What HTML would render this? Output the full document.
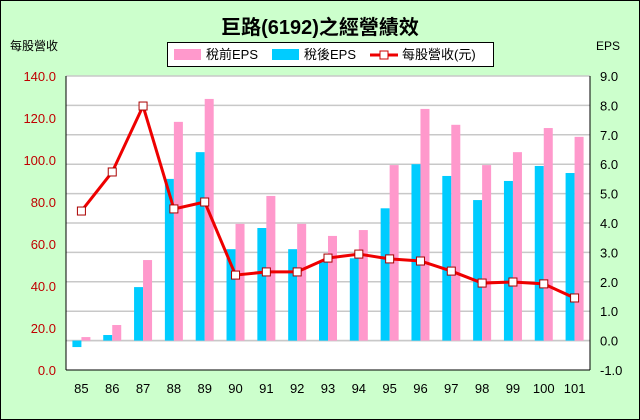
<!DOCTYPE html>
<html><head><meta charset="utf-8"><style>
body{margin:0;background:#ccffcc;}
svg{display:block;font-family:"Liberation Sans","Noto Sans CJK TC",sans-serif;}
</style></head><body>
<svg id="c" width="640" height="420">
<rect x="0.5" y="0.5" width="639" height="419" fill="#ccffcc" stroke="#000"/>
<text x="320" y="34" font-size="20" font-weight="bold" text-anchor="middle">巨路(6192)之經營績效</text>
<text x="34" y="50" font-size="12" text-anchor="middle">每股營收</text>
<text x="608" y="50" font-size="12" text-anchor="middle">EPS</text>
<g>
<rect x="167.5" y="42.5" width="326" height="24" fill="#fff" stroke="#000"/>
<rect x="174" y="49" width="27" height="11" fill="#ff99cc"/>
<text x="206" y="59" font-size="13">稅前EPS</text>
<rect x="272" y="49" width="27" height="11" fill="#00ccff"/>
<text x="304" y="59" font-size="13">稅後EPS</text>
<line x1="370" y1="55" x2="398" y2="55" stroke="#e00" stroke-width="3"/>
<rect x="380" y="51" width="8" height="8" fill="#fff" stroke="#c00"/>
<text x="402" y="59" font-size="13">每股營收(元)</text>
</g>
<rect x="66" y="76" width="524" height="294" fill="#fff"/>
<g id="g"></g>
</svg>
<script>
const categories=["85","86","87","88","89","90","91","92","93","94","95","96","97","98","99","100","101"];
const pretaxEps=[0.12,0.53,2.74,7.44,8.22,3.97,4.92,3.97,3.56,3.76,5.97,7.88,7.34,5.97,6.41,7.23,6.93];
const aftertaxEps=[-0.22,0.19,1.82,5.5,6.41,3.11,3.83,3.11,2.67,2.8,4.5,6.0,5.6,4.78,5.43,5.94,5.7];
const revenue=[75.7,94.3,125.7,76.7,80,45.2,46.7,46.7,53.3,55.2,52.9,51.9,47.1,41.4,41.9,41,34.3];
const leftTicks=["0.0","20.0","40.0","60.0","80.0","100.0","120.0","140.0"];
const rightTicks=["-1.0","0.0","1.0","2.0","3.0","4.0","5.0","6.0","7.0","8.0","9.0"];
const L=66,R=590,T=76,B=370,NS="http://www.w3.org/2000/svg";
const yR=v=>B-(v+1)/10*(B-T);
const yL=v=>B-v/140*(B-T);
const cw=(R-L)/categories.length;
const xC=i=>L+cw*(i+0.5);
const g=document.getElementById('g');
function mk(t,a){const e=document.createElementNS(NS,t);for(const k in a)e.setAttribute(k,a[k]);g.appendChild(e);return e;}
rightTicks.forEach((t,i)=>{const v=parseFloat(t);const y=yR(v);
 if(v>-1){const l=mk('line',{x1:L,x2:R,y1:y,y2:y,stroke:'#c8c8c8','stroke-width':1.5});
 
 }
 const tx=mk('text',{x:R+10,y:y+5,'font-size':13});tx.textContent=t;
 
 
});
leftTicks.forEach(t=>{const y=yL(parseFloat(t));
 const tx=mk('text',{x:56,y:y+5,'font-size':13,'text-anchor':'end',fill:'#c00000'});tx.textContent=t;
 
 
});
const z=yR(0);
mk('line',{x1:L,x2:R,y1:z,y2:z,stroke:'#c8c8c8','stroke-width':1.5});
categories.forEach((c,i)=>{
 const x=xC(i);
 const a=aftertaxEps[i],p=pretaxEps[i];
 const b1=mk('rect',{x:x-9,y:Math.min(yR(a),z),width:9,height:Math.abs(yR(a)-z),fill:'#00ccff'});
 
 
 const b2=mk('rect',{x:x,y:Math.min(yR(p),z),width:9,height:Math.abs(yR(p)-z),fill:'#ff99cc'});
 
 
 const tx=mk('text',{x:x,y:393,'font-size':13,'text-anchor':'middle'});tx.textContent=c;
 
 
});
mk('line',{x1:L,x2:L,y1:T,y2:B,stroke:'#000'});
mk('line',{x1:R,x2:R,y1:T,y2:B,stroke:'#000'});
mk('line',{x1:L,x2:R,y1:B,y2:B,stroke:'#000'});
const pl=mk('polyline',{points:revenue.map((v,i)=>xC(i)+','+yL(v)).join(' '),fill:'none',stroke:'#e00','stroke-width':3});


revenue.forEach((v,i)=>{const m=mk('rect',{x:xC(i)-4,y:yL(v)-4,width:8,height:8,fill:'#fff',stroke:'#a00'});
 
 
});
</script>
</body></html>
